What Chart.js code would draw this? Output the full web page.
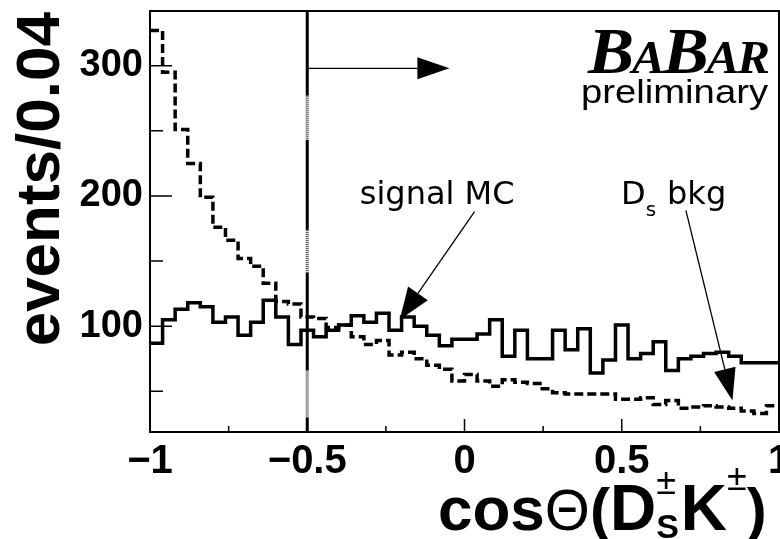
<!DOCTYPE html>
<html>
<head>
<meta charset="UTF-8">
<title>cos(theta) DsK</title>
<script src="https://cdn.jsdelivr.net/npm/chart.js"></script>
<style>
  html, body { margin: 0; padding: 0; background: #fff; }
</style>
</head>
<body>
<canvas id="myChart" width="780" height="539"></canvas>
<script>
// bin edges of the histogram (50 bins of 0.04)
const binEdges = [-1.00, -0.96, -0.92, -0.88, -0.84, -0.80, -0.76, -0.72, -0.68, -0.64,
  -0.60, -0.56, -0.52, -0.48, -0.44, -0.40, -0.36, -0.32, -0.28, -0.24,
  -0.20, -0.16, -0.12, -0.08, -0.04, 0.00, 0.04, 0.08, 0.12, 0.16,
  0.20, 0.24, 0.28, 0.32, 0.36, 0.40, 0.44, 0.48, 0.52, 0.56,
  0.60, 0.64, 0.68, 0.72, 0.76, 0.80, 0.84, 0.88, 0.92, 0.96, 1.00];

// events per bin
const signalMC = [87, 105, 113, 118, 115, 103, 107, 93, 103, 120,
  107, 86, 97, 92, 97, 101, 108, 103, 110, 97,
  107, 100, 93, 85, 90, 90, 94, 105, 77, 97,
  75, 75, 97, 82, 98, 64, 74, 101, 75, 79,
  88, 66, 75, 77, 79, 80, 77, 72, 72, 72];

const dsBkg = [327, 295, 251, 225, 199, 176, 166, 152, 146, 133,
  119, 117, 107, 106, 99, 101, 92, 86, 89, 78,
  80, 75, 70, 67, 58, 63, 58, 54, 59, 57,
  56, 52, 49, 48, 48, 48, 48, 44, 44, 45,
  40, 43, 37, 38, 39, 38, 37, 35, 33, 39];

const xTicks = [-1, -0.5, 0, 0.5, 1];
const xMinorTicks = [-0.75, -0.25, 0.25, 0.75];
const yTicks = [100, 200, 300];
const yMinorTicks = [50, 150, 250];

const cutAt = -0.5;
const cutDotted = [[277, 243], [174, 141], [66, 30]];

const FONT = '"Liberation Sans", Arial, sans-serif';

function toSteps(values) {
  return binEdges.map((x, i) => ({ x: x, y: values[Math.min(i, values.length - 1)] }));
}

function arrow(ctx, x1, y1, x2, y2, len, half) {
  const ang = Math.atan2(y2 - y1, x2 - x1);
  const bx = x2 - len * Math.cos(ang), by = y2 - len * Math.sin(ang);
  ctx.lineWidth = 1.3;
  ctx.beginPath(); ctx.moveTo(x1, y1); ctx.lineTo(bx, by); ctx.stroke();
  ctx.beginPath();
  ctx.moveTo(x2, y2);
  ctx.lineTo(bx + half * Math.sin(ang), by - half * Math.cos(ang));
  ctx.lineTo(bx - half * Math.sin(ang), by + half * Math.cos(ang));
  ctx.closePath(); ctx.fill();
}

const cutLine = {
  id: 'cutLine',
  beforeDatasetsDraw(chart) {
    const { ctx, chartArea: a, scales: { x, y } } = chart;
    const cx = x.getPixelForValue(cutAt);
    ctx.save();
    ctx.strokeStyle = '#000';
    ctx.lineWidth = 3;
    ctx.beginPath(); ctx.moveTo(cx, a.top); ctx.lineTo(cx, a.bottom); ctx.stroke();
    cutDotted.forEach(([hi, lo]) => {
      const y1 = y.getPixelForValue(hi), y2 = y.getPixelForValue(lo);
      ctx.fillStyle = '#fff';
      ctx.fillRect(cx - 2, y1, 4, y2 - y1);
      ctx.setLineDash([1, 1]);
      ctx.strokeStyle = '#444';
      ctx.beginPath(); ctx.moveTo(cx, y1); ctx.lineTo(cx, y2); ctx.stroke();
      ctx.setLineDash([]);
    });
    ctx.restore();
  }
};

const decor = {
  id: 'decor',
  afterDraw(chart) {
    const { ctx, chartArea: a, scales: { x, y } } = chart;
    ctx.save();
    ctx.strokeStyle = '#000';
    ctx.fillStyle = '#000';

    // frame + inward ticks
    ctx.lineWidth = 2;
    ctx.strokeRect(a.left, a.top, a.right - a.left, a.bottom - a.top);
    ctx.lineWidth = 1.5;
    ctx.beginPath();
    xTicks.forEach(v => { const px = x.getPixelForValue(v); ctx.moveTo(px, a.bottom); ctx.lineTo(px, a.bottom - 13); });
    xMinorTicks.forEach(v => { const px = x.getPixelForValue(v); ctx.moveTo(px, a.bottom); ctx.lineTo(px, a.bottom - 6); });
    yTicks.forEach(v => { const py = y.getPixelForValue(v); ctx.moveTo(a.left, py); ctx.lineTo(a.left + 22, py); });
    yMinorTicks.forEach(v => { const py = y.getPixelForValue(v); ctx.moveTo(a.left, py); ctx.lineTo(a.left + 13, py); });
    ctx.stroke();

    // arrows
    arrow(ctx, x.getPixelForValue(cutAt), y.getPixelForValue(298), x.getPixelForValue(-0.048), y.getPixelForValue(298), 32, 11);
    arrow(ctx, x.getPixelForValue(0.032), y.getPixelForValue(188), x.getPixelForValue(-0.206), y.getPixelForValue(105), 32, 12);
    arrow(ctx, x.getPixelForValue(0.704), y.getPixelForValue(189), x.getPixelForValue(0.852), y.getPixelForValue(43), 32, 11);

    // annotation labels
    ctx.textAlign = 'left';
    ctx.textBaseline = 'alphabetic';
    ctx.font = '32px "DejaVu Sans", sans-serif';
    ctx.fillText('signal MC', x.getPixelForValue(-0.333), y.getPixelForValue(194));
    let lx = x.getPixelForValue(0.498), ly = y.getPixelForValue(194);
    ctx.fillText('D', lx, ly);
    lx += ctx.measureText('D').width;
    ctx.font = '20px "DejaVu Sans", sans-serif';
    ctx.fillText('s', lx, ly + 12);
    ctx.font = '32px "DejaVu Sans", sans-serif';
    ctx.fillText('bkg', x.getPixelForValue(0.644), ly);

    // BaBar logo
    const parts = [['B', 66], ['A', 47], ['B', 66], ['A', 47], ['R', 47]];
    let total = 0;
    parts.forEach(p => { ctx.font = 'bold italic ' + p[1] + 'px "Liberation Serif", serif'; total += ctx.measureText(p[0]).width - 2; });
    ctx.save();
    ctx.translate(a.right - 11 - 180, a.top + 62);
    ctx.scale(180 / total, 1);
    let bx = 0;
    parts.forEach(p => {
      ctx.font = 'bold italic ' + p[1] + 'px "Liberation Serif", serif';
      ctx.fillText(p[0], bx, 0);
      bx += ctx.measureText(p[0]).width - 2;
    });
    ctx.restore();
    ctx.font = '34px ' + FONT;
    const pw = ctx.measureText('preliminary').width;
    ctx.save();
    ctx.translate(a.right - 11 - 187, a.top + 92);
    ctx.scale(187 / pw, 1);
    ctx.fillText('preliminary', 0, 0);
    ctx.restore();

    // y title
    ctx.save();
    ctx.font = 'bold 62px ' + FONT;
    ctx.translate(59, 12);
    ctx.rotate(-Math.PI / 2);
    ctx.textAlign = 'right';
    ctx.fillText('events/0.04', 0, 0);
    ctx.restore();

    // x title: cosΘ(D_S^± K^±)
    let tx = 438;
    const base = 530;
    const piece = (txt, font, dy) => { ctx.font = font; ctx.fillText(txt, tx, base + (dy || 0)); return ctx.measureText(txt).width; };
    tx += piece('cos', 'bold 62px ' + FONT);
    tx += piece('\u0398', '58px ' + FONT);
    tx += piece('(', 'bold 60px ' + FONT);
    tx += piece('D', 'bold 64px ' + FONT);
    const sx = tx;
    const sw = piece('S', 'bold 34px ' + FONT, 8);
    piece('\u00b1', '36px ' + FONT, -36);
    tx = sx + sw + 2;
    tx += piece('K', 'bold 64px ' + FONT);
    tx += piece('\u00b1', '36px ' + FONT, -40);
    piece(')', 'bold 60px ' + FONT);

    ctx.restore();
  }
};

new Chart(document.getElementById('myChart').getContext('2d'), {
  type: 'line',
  data: {
    datasets: [
      {
        label: 'signal MC',
        data: toSteps(signalMC),
        borderColor: '#000',
        borderWidth: 3.5,
        stepped: true,
        pointRadius: 0,
        fill: false
      },
      {
        label: 'Ds bkg',
        data: toSteps(dsBkg),
        borderColor: '#000',
        borderWidth: 3.5,
        borderDash: [9, 4],
        stepped: true,
        pointRadius: 0,
        fill: false
      }
    ]
  },
  options: {
    responsive: false,
    animation: false,
    devicePixelRatio: 1,
    layout: { padding: { top: 11, right: 1, left: 0, bottom: 0 } },
    plugins: { legend: { display: false }, tooltip: { enabled: false } },
    scales: {
      x: {
        type: 'linear',
        min: -1,
        max: 1,
        afterBuildTicks: s => { s.ticks = xTicks.map(v => ({ value: v })); },
        afterFit: s => { s.height = 107; s.paddingLeft = 0; s.paddingRight = 0; },
        grid: { display: false, drawTicks: false },
        border: { display: false },
        ticks: {
          color: '#000',
          padding: 6,
          maxRotation: 0,
          autoSkip: false,
          font: { family: FONT, size: 40, weight: 'bold' },
          callback: v => v < 0 ? '\u2212' + Math.abs(v) : String(v)
        }
      },
      y: {
        min: 18.8,
        max: 342,
        afterBuildTicks: s => { s.ticks = yTicks.map(v => ({ value: v })); },
        afterFit: s => { s.width = 150; s.paddingTop = 0; s.paddingBottom = 0; },
        grid: { display: false, drawTicks: false },
        border: { display: false },
        ticks: {
          color: '#000',
          padding: 7,
          font: { family: FONT, size: 38, weight: 'bold' }
        }
      }
    }
  },
  plugins: [cutLine, decor]
});
</script>
</body>
</html>
